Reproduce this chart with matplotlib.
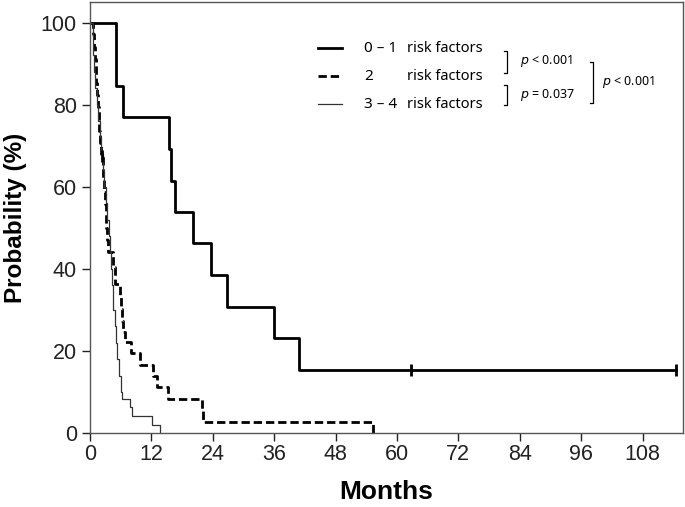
import numpy as np
from matplotlib import pyplot as plt

# Kaplan-Meier curves (months, survival % after each event)
low_t = [0, 5.1, 6.5, 15.4, 15.8, 16.7, 20.2, 23.6, 26.7, 36.0, 40.8, 114.5]
low_s = [100, 84.6, 76.9, 69.2, 61.5, 53.8, 46.2, 38.5, 30.8, 23.1, 15.4, 15.4]
low_cens = [62.7, 114.5]

mid_t = [0, 0.5, 0.7, 0.9, 1.1, 1.2, 1.4, 1.5, 1.7, 1.8, 2.0, 2.1,
         2.5, 2.6, 2.8, 2.9, 3.1, 3.2, 3.4, 3.5, 4.5, 4.9,
         5.9, 6.1, 6.3, 6.5, 6.8, 8.0, 9.8, 12.4, 13.0, 15.3, 21.8, 22.1, 55.4]
mid_s = [100, 97.1, 94.1, 91.2, 88.2, 85.3, 82.4, 79.4, 76.5, 73.5, 70.6, 67.6,
         64.7, 61.8, 58.8, 55.9, 52.9, 50.0, 47.1, 44.1, 40.4, 36.4,
         33.3, 30.3, 27.3, 24.7, 22.2, 19.4, 16.6, 13.9, 11.1, 8.3, 5.5, 2.7, 0]
mid_cens = [2.3]

high_t = [0, 0.6, 0.65, 0.7, 1.0, 1.3, 1.6, 1.9, 2.2, 2.5, 2.8, 3.1, 3.4, 3.7,
          3.9, 4.1, 4.3, 4.5, 4.8, 5.0, 5.2, 5.6, 6.0, 6.3, 7.8, 8.3, 12.2, 13.7]
high_s = [100, 96, 92, 88, 84, 80, 76, 72, 68, 64, 60, 56, 52, 48,
          44, 40, 36, 30, 26, 22, 18, 14, 10, 8.4, 6.3, 4.1, 1.9, 0]

group_labels = ['0 \u2013 1', '2', '3 \u2013 4']
pair_p = ['< 0.001', '= 0.037']
overall_p = '< 0.001'
x_ticks = list(range(0, 109, 12))
y_ticks = list(range(0, 101, 20))


def surv_at(ts, ss, t):
    idx = np.searchsorted(ts, t, side='right') - 1
    return ss[idx]


plt.rcParams['font.family'] = ['Liberation Sans', 'DejaVu Sans']
fig = plt.figure(figsize=(6.85, 5.07), dpi=100)
ax = fig.add_axes([0.1314, 0.146, 0.8656, 0.850])

ln_low, = ax.plot(low_t, low_s, drawstyle='steps-post', color='black', lw=2.0)
ln_mid, = ax.plot(mid_t, mid_s, drawstyle='steps-post', color='black', lw=2.0,
                  dashes=(3.0, 1.4))
ln_high, = ax.plot(high_t, high_s, drawstyle='steps-post', color='#333333', lw=0.9)

ax.plot(low_cens, [surv_at(low_t, low_s, t) for t in low_cens], ls='none',
        marker='|', ms=9, mew=2.0, color='black')
ax.plot(mid_cens, [surv_at(mid_t, mid_s, t) for t in mid_cens], ls='none',
        marker='|', ms=9, mew=2.0, color='black')

ax.set_xlim(0, 115.9)
ax.set_ylim(0, 105)
ax.set_xticks(x_ticks)
ax.set_yticks(y_ticks)
ax.tick_params(direction='out', length=6, width=1, labelsize=15.5, colors='#222222')
ax.tick_params(axis='x', pad=2)
for sp in ax.spines.values():
    sp.set_color('#555555')
    sp.set_linewidth(1.0)

ax.set_xlabel('Months', fontsize=19, fontweight='bold', labelpad=11)
ax.set_ylabel('Probability (%)', fontsize=17.5, fontweight='bold', labelpad=10)

# legend drawn by hand, with p-value brackets
legend_font = ['Noto Sans', 'DejaVu Sans']
rows_y = [0.893, 0.828, 0.763]
for line, lab, yy in zip([ln_low, ln_mid, ln_high], group_labels, rows_y):
    seg, = ax.plot([0.384, 0.425], [yy, yy], transform=ax.transAxes, color=line.get_color(),
                   lw=line.get_linewidth(), clip_on=False)
    if line is ln_mid:
        seg.set_dashes((3.0, 1.4))
    ax.text(0.462, yy, lab, transform=ax.transAxes, fontsize=11, va='center',
            family=legend_font)
    ax.text(0.534, yy, 'risk factors', transform=ax.transAxes, fontsize=10.5,
            va='center', family=legend_font)


def bracket(x, y0, y1):
    w = 0.004
    ax.plot([x - w, x, x, x - w], [y1, y1, y0, y0], transform=ax.transAxes,
            color='black', lw=0.9, clip_on=False)


bracket(0.703, 0.835, 0.887)
bracket(0.703, 0.761, 0.807)
bracket(0.848, 0.765, 0.861)
ax.text(0.726, 0.863, '$p$ ' + pair_p[0], transform=ax.transAxes, fontsize=9,
        va='center', family=legend_font)
ax.text(0.726, 0.784, '$p$ ' + pair_p[1], transform=ax.transAxes, fontsize=9,
        va='center', family=legend_font)
ax.text(0.863, 0.815, '$p$ ' + overall_p, transform=ax.transAxes, fontsize=9,
        va='center', family=legend_font)

plt.savefig('out.png', dpi=100)
